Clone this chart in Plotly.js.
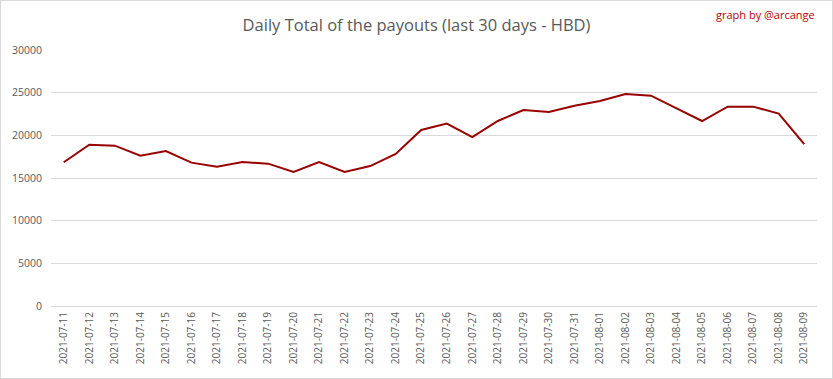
<!DOCTYPE html>
<html>
<head>
<meta charset="utf-8">
<script src="https://cdn.plot.ly/plotly-3.0.1.min.js"></script>
<style>
html,body{margin:0;padding:0;background:#fff;}
#chart{width:833px;height:379px;box-sizing:border-box;border:1px solid #d9d9d9;}
</style>
</head>
<body>
<div id="chart"></div>
<script>
const dates = ["2021-07-11","2021-07-12","2021-07-13","2021-07-14","2021-07-15","2021-07-16","2021-07-17","2021-07-18","2021-07-19","2021-07-20","2021-07-21","2021-07-22","2021-07-23","2021-07-24","2021-07-25","2021-07-26","2021-07-27","2021-07-28","2021-07-29","2021-07-30","2021-07-31","2021-08-01","2021-08-02","2021-08-03","2021-08-04","2021-08-05","2021-08-06","2021-08-07","2021-08-08","2021-08-09"];
const payouts = [16850,18900,18790,17620,18160,16800,16330,16870,16680,15700,16870,15700,16400,17810,20630,21370,19800,21680,22970,22730,23470,24020,24840,24650,23160,21680,23360,23360,22540,18980];
const yTicks = [0,5000,10000,15000,20000,25000,30000];
const titleText = "Daily Total of the payouts (last 30 days - HBD)";
const creditText = "graph by @arcange";

const trace = {
  x: dates, y: payouts, type: "scatter", mode: "lines",
  line: {color: "#990000", width: 2},
  hoverinfo: "x+y"
};
const font = "'Open Sans', sans-serif";
const layout = {
  width: 831, height: 377,
  margin: {l: 50, r: 15, t: 49, b: 72},
  paper_bgcolor: "#fff", plot_bgcolor: "#fff",
  showlegend: false,
  title: {text: titleText, x: 0.5, xanchor: "center", y: 0.935, yanchor: "middle",
          font: {family: font, size: 16.5, color: "#595959"}},
  xaxis: {type: "category", range: [-0.5, dates.length - 0.5], tickangle: -90,
          showgrid: false, zeroline: false,
          showline: false, ticks: "", tickfont: {family: font, size: 10, color: "#595959"},
          ticklabelstandoff: 3},
  yaxis: {range: [0, 30000], tickvals: yTicks, ticktext: yTicks.map(String),
          showgrid: true, gridcolor: "#d9d9d9", gridwidth: 1, zeroline: true,
          zerolinecolor: "#d9d9d9", zerolinewidth: 1, showline: false, ticks: "",
          ticklabelstandoff: 8,
          tickfont: {family: font, size: 10.5, color: "#595959"}},
  annotations: [{text: creditText, xref: "paper", yref: "paper", x: 1.0, y: 1.14,
                 xanchor: "right", yanchor: "middle", showarrow: false,
                 font: {family: font, size: 11, color: "#c00000"}}]
};
Plotly.newPlot("chart", [trace], layout, {displayModeBar: false, staticPlot: true});
</script>
</body>
</html>
